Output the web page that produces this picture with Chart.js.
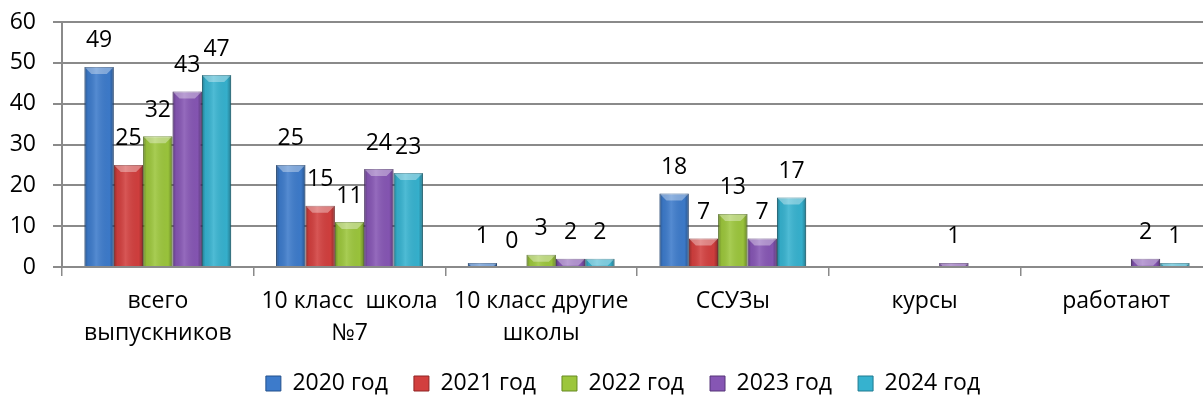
<!DOCTYPE html>
<html>
<head>
<meta charset="utf-8">
<script src="https://cdn.jsdelivr.net/npm/chart.js@4/dist/chart.umd.min.js"></script>
<style>
  html, body { margin: 0; padding: 0; background: #fff; overflow: hidden; }
  #wrap { width: 1203px; height: 403px; overflow: hidden; }
  #box { width: 1214px; height: 403px; }
</style>
</head>
<body>
<div id="wrap"><div id="box"><canvas id="chart-1"></canvas></div></div>
<script>
const categories = [
  ["всего", "выпускников"],
  ["10 класс  школа", "№7"],
  ["10 класс другие", "школы"],
  "ССУЗы",
  "курсы",
  "работают",
];
const years = ["2020 год", "2021 год", "2022 год", "2023 год", "2024 год"];
const y2020 = [49, 25, 1, 18, null, null];
const y2021 = [25, 15, 0, 7, null, null];
const y2022 = [32, 11, 3, 13, null, null];
const y2023 = [43, 24, 2, 7, 1, 2];
const y2024 = [47, 23, 2, 17, null, 1];
const yTicks = [0, 10, 20, 30, 40, 50, 60];

const colors = ["#3d7bcb", "#d23f3e", "#9cc63c", "#8656b4", "#36b2cf"];
const edges = ["#23518c", "#8f2524", "#678a22", "#563479", "#1f7a90"];
const FONT = "'Open Sans', 'Noto Sans', sans-serif";
const SIZE = 23;

// bevel look of the office bars
const bevel = {
  id: "bevel",
  afterDatasetsDraw(chart) {
    const ctx = chart.ctx;
    chart.data.datasets.forEach((ds, i) => {
      chart.getDatasetMeta(i).data.forEach((bar, j) => {
        if (ds.data[j] == null) return;
        const l = bar.x - bar.width / 2, r = bar.x + bar.width / 2;
        const t = Math.min(bar.y, bar.base), b = Math.max(bar.y, bar.base);
        const h = b - t;
        if (h < 0.5) return;
        ctx.save();
        ctx.beginPath();
        ctx.rect(l, t, r - l, h);
        ctx.clip();
        const g = ctx.createLinearGradient(l, 0, r, 0);
        g.addColorStop(0, "rgba(0,0,0,0.3)");
        g.addColorStop(0.12, "rgba(0,0,0,0.05)");
        g.addColorStop(0.4, "rgba(255,255,255,0.12)");
        g.addColorStop(0.85, "rgba(0,0,0,0.02)");
        g.addColorStop(1, "rgba(0,0,0,0.32)");
        ctx.fillStyle = g;
        ctx.fillRect(l, t, r - l, h);
        const d = Math.min(7, h);
        ctx.beginPath();
        ctx.moveTo(l, t);
        ctx.lineTo(r, t);
        ctx.lineTo(r - d, t + d);
        ctx.lineTo(l + d, t + d);
        ctx.closePath();
        ctx.fillStyle = "rgba(255,255,255,0.35)";
        ctx.fill();
        ctx.restore();
      });
    });
  }
};

// value labels above the bars
const values = {
  id: "values",
  afterDatasetsDraw(chart) {
    const ctx = chart.ctx;
    ctx.save();
    ctx.font = SIZE + "px " + FONT;
    ctx.fillStyle = "#000";
    ctx.textAlign = "center";
    ctx.textBaseline = "middle";
    chart.data.datasets.forEach((ds, i) => {
      chart.getDatasetMeta(i).data.forEach((bar, j) => {
        const v = ds.data[j];
        if (v == null) return;
        ctx.fillText(String(v), bar.x, bar.y - 26);
      });
    });
    ctx.restore();
  }
};

// nudge the legend a bit to the right, like the original
const legendShift = {
  id: "legendShift",
  afterLayout(chart) {
    chart.legend.left += 12;
    chart.legend.right += 12;
  }
};

const series = [y2020, y2021, y2022, y2023, y2024];

const ctx1 = document.getElementById("chart-1").getContext("2d");
const myChart1 = new Chart(ctx1, {
  type: "bar",
  data: {
    labels: categories,
    datasets: series.map((d, i) => ({
      label: years[i],
      data: d,
      backgroundColor: colors[i],
      borderColor: edges[i],
      borderWidth: 1,
      categoryPercentage: 0.766,
      barPercentage: 1,
    })),
  },
  options: {
    responsive: true,
    maintainAspectRatio: false,
    animation: false,
    layout: { padding: { top: 0, left: 10, right: 2, bottom: -2 } },
    plugins: {
      tooltip: { enabled: false },
      legend: {
        position: "bottom",
        labels: {
          font: { family: FONT, size: SIZE },
          color: "#000",
          boxWidth: 15,
          boxHeight: 15,
          padding: 26,
        },
      },
    },
    scales: {
      x: {
        grid: { drawOnChartArea: false, drawTicks: true, tickLength: 9, color: "#8a8a8a", lineWidth: 1.5 },
        border: { display: true, color: "#8a8a8a", width: 2 },
        ticks: {
          font: { family: FONT, size: SIZE, lineHeight: 1.39 },
          color: "#000",
          padding: 9,
          maxRotation: 0,
          autoSkip: false,
        },
        afterFit(scale) {
          scale.height = 79;
          scale.paddingLeft = 0;
          scale.paddingRight = 0;
        },
      },
      y: {
        min: 0,
        max: 60,
        grid: { color: "#8a8a8a", lineWidth: 2, tickLength: 9 },
        border: { display: true, color: "#8a8a8a", width: 2 },
        afterBuildTicks(scale) { scale.ticks = yTicks.map(v => ({ value: v })); },
        ticks: {
          font: { family: FONT, size: SIZE },
          color: "#000",
          padding: 17,
        },
        afterFit(scale) {
          scale.width = 52;
          scale.paddingTop = 22;
          scale.paddingBottom = 0;
        },
      },
    },
  },
  plugins: [bevel, values, legendShift],
});
</script>
</body>
</html>
